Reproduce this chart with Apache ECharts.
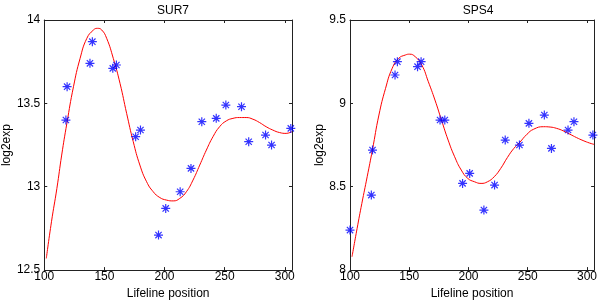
<!DOCTYPE html>
<html lang="en">

<head>
    <meta charset="UTF-8">
    <title>SUR7 / SPS4</title>
    <style>
        html, body { margin: 0; padding: 0; background: #fff; }
        #box { width: 600px; height: 305px; }
    </style>
</head>

<body>
    <div id="box"></div>
</body>
<script src="https://cdn.jsdelivr.net/npm/echarts@6/dist/echarts.min.js"></script>
<script>
    // lifeline positions of the samples (shared by both genes)
    var positions = [100, 118, 119, 138, 140, 157, 160, 176, 180, 195, 201, 213, 222, 231, 243, 251, 264, 270, 284, 289, 305];
    // measured log2 expression, SUR7 first point lies below the plotted range
    var sur7Values = [null, 13.40, 13.60, 13.74, 13.87, 13.71, 13.73, 13.30, 13.34, 12.71, 12.87, 12.97, 13.11, 13.39, 13.41, 13.49, 13.48, 13.27, 13.31, 13.25, 13.35];
    var sps4Values = [8.24, 8.45, 8.72, 9.17, 9.25, 9.22, 9.25, 8.90, 8.90, 8.52, 8.58, 8.36, 8.51, 8.78, 8.75, 8.88, 8.93, 8.73, 8.84, 8.89, 8.81];

    // fitted curves
    var sur7FitX = [101.7, 106, 110.5, 114.5, 118.8, 124.3, 129.8, 135.4, 140.9, 144.2, 147.8, 151.9, 157.4, 163.0, 168.5, 174.0, 179.5, 185.1, 190.6, 196.1, 201.6, 207.2, 212.7, 218.2, 223.7, 229.3, 234.8, 240.3, 245.8, 251.4, 256.9, 262.4, 267.9, 273.5, 279.0, 284.5, 290.0, 295.6, 301.1, 305.8];
    var sur7FitY = [12.57, 12.79, 12.99, 13.19, 13.38, 13.60, 13.77, 13.89, 13.94, 13.95, 13.94, 13.89, 13.77, 13.62, 13.44, 13.27, 13.13, 13.03, 12.97, 12.935, 12.92, 12.915, 12.93, 12.97, 13.04, 13.13, 13.22, 13.30, 13.36, 13.395, 13.41, 13.415, 13.415, 13.405, 13.385, 13.36, 13.34, 13.325, 13.32, 13.33];
    var sps4FitX = [101.7, 106, 110, 114.5, 118.9, 124.4, 130.0, 135.6, 141.1, 146.7, 150.3, 155.0, 160.6, 166.1, 171.7, 177.2, 182.8, 188.3, 193.9, 199.4, 205.0, 210.6, 216.1, 221.7, 227.2, 232.8, 238.3, 243.1, 249.4, 255.0, 263.3, 268.9, 274.4, 280.0, 285.6, 291.1, 296.7, 302.2, 306.0];
    var sps4FitY = [8.08, 8.25, 8.40, 8.56, 8.72, 8.93, 9.09, 9.21, 9.27, 9.29, 9.295, 9.28, 9.23, 9.13, 9.02, 8.90, 8.78, 8.68, 8.60, 8.55, 8.53, 8.52, 8.53, 8.56, 8.61, 8.675, 8.73, 8.765, 8.815, 8.845, 8.86, 8.858, 8.85, 8.835, 8.815, 8.795, 8.777, 8.762, 8.754];

    var xTicks = [100, 150, 200, 250, 300];

    function pairs(xs, ys) {
        var out = [];
        for (var i = 0; i < xs.length; i++) {
            out.push([xs[i], ys[i]]);
        }
        return out;
    }

    var font = 'Liberation Sans, Arial, Helvetica, sans-serif';
    var axisColor = '#222';
    var star = 'path://M0,-10L0,10M-10,0L10,0M-7,-7L7,7M-7,7L7,-7';

    function xAxisFor(grid, bottom) {
        return {
            gridIndex: grid,
            type: 'value',
            position: bottom ? 'bottom' : 'top',
            min: 100,
            max: 306,
            interval: 50,
            name: bottom ? 'Lifeline position' : '',
            nameLocation: 'middle',
            nameGap: 15,
            nameTextStyle: { color: '#000', fontSize: 12, fontFamily: font },
            axisLine: { show: true, lineStyle: { color: axisColor, width: 1 } },
            axisTick: { show: true, inside: true, length: 3, lineStyle: { color: axisColor } },
            axisLabel: {
                show: bottom,
                margin: 1,
                color: '#000',
                fontSize: 12,
                fontFamily: font,
                formatter: function (v) {
                    return xTicks.indexOf(v) >= 0 ? String(v) : '';
                }
            },
            splitLine: { show: false }
        };
    }

    function yAxisFor(grid, left, min, max, gap) {
        return {
            gridIndex: grid,
            type: 'value',
            position: left ? 'left' : 'right',
            min: min,
            max: max,
            interval: 0.5,
            name: left ? 'log2exp' : '',
            nameLocation: 'middle',
            nameGap: gap,
            nameTextStyle: { color: '#000', fontSize: 12, fontFamily: font },
            axisLine: { show: true, lineStyle: { color: axisColor, width: 1 } },
            axisTick: { show: true, inside: true, length: 3, lineStyle: { color: axisColor } },
            axisLabel: {
                show: left,
                margin: 4,
                color: '#000',
                fontSize: 12,
                fontFamily: font
            },
            splitLine: { show: false }
        };
    }

    var box = echarts.init(document.getElementById('box'));
    var option = {
        backgroundColor: '#fff',
        animation: false,
        title: [
            { text: 'SUR7', left: 168, top: 0, textAlign: 'center', textStyle: { color: '#000', fontSize: 12, fontWeight: 'normal', fontFamily: font } },
            { text: 'SPS4', left: 473, top: 0, textAlign: 'center', textStyle: { color: '#000', fontSize: 12, fontWeight: 'normal', fontFamily: font } }
        ],
        grid: [
            { left: 44, top: 20, width: 248, height: 254 },
            { left: 350, top: 20, width: 247, height: 254 }
        ],
        xAxis: [
            xAxisFor(0, true), xAxisFor(0, false),
            xAxisFor(1, true), xAxisFor(1, false)
        ],
        yAxis: [
            yAxisFor(0, true, 12.5, 14, 28), yAxisFor(0, false, 12.5, 14, 28),
            yAxisFor(1, true, 8, 9.5, 23), yAxisFor(1, false, 8, 9.5, 23)
        ],
        series: [
            {
                type: 'line',
                xAxisIndex: 0,
                yAxisIndex: 0,
                data: pairs(sur7FitX, sur7FitY),
                smooth: 0.5,
                showSymbol: false,
                lineStyle: { color: '#ff0000', width: 1 },
                z: 2
            },
            {
                type: 'scatter',
                xAxisIndex: 0,
                yAxisIndex: 0,
                data: pairs(positions, sur7Values),
                symbol: star,
                symbolSize: 9,
                itemStyle: { color: 'none', borderColor: '#0000ff', borderWidth: 1.2 },
                z: 3
            },
            {
                type: 'line',
                xAxisIndex: 2,
                yAxisIndex: 2,
                data: pairs(sps4FitX, sps4FitY),
                smooth: 0.5,
                showSymbol: false,
                lineStyle: { color: '#ff0000', width: 1 },
                z: 2
            },
            {
                type: 'scatter',
                xAxisIndex: 2,
                yAxisIndex: 2,
                data: pairs(positions, sps4Values),
                symbol: star,
                symbolSize: 9,
                itemStyle: { color: 'none', borderColor: '#0000ff', borderWidth: 1.2 },
                z: 3
            }
        ]
    };
    box.setOption(option);
</script>

</html>
